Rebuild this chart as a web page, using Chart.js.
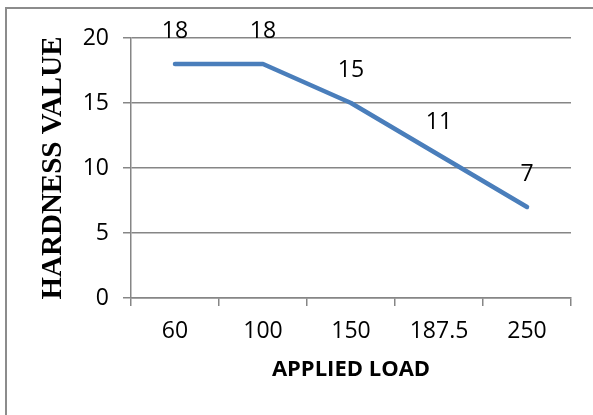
<!DOCTYPE html>
<html>
<head>
<meta charset="utf-8">
<script src="https://cdn.jsdelivr.net/npm/chart.js@4/dist/chart.umd.min.js"></script>
<style>
  html, body { margin: 0; padding: 0; background: #fff; }
  #wrap { position: relative; width: 593px; height: 415px; overflow: hidden; }
  #frame {
    position: absolute; left: 5px; top: 7px; width: 700px; height: 500px;
    border-left: 2px solid #8c8c8c; border-top: 2px solid #8c8c8c;
  }
  canvas { position: absolute; left: 0; top: 0; }
</style>
</head>
<body>
<div id="wrap">
  <div id="frame"></div>
  <canvas id="hardnessChart" width="593" height="415"></canvas>
</div>
<script>
// ── DATA ───────────────────────────────────────────────────────
const loads    = ['60', '100', '150', '187.5', '250'];
const hardness = [18, 18, 15, 11, 7];
const yTicks   = [0, 5, 10, 15, 20];

const GRID = '#868686';
const TICK_FONT = { family: 'Open Sans', size: 23 };

// Value labels sitting above each point (no datalabels plugin offline)
const valueLabels = {
  id: 'valueLabels',
  afterDatasetsDraw(chart) {
    const { ctx } = chart;
    const meta = chart.getDatasetMeta(0);
    ctx.save();
    ctx.font = `${TICK_FONT.size}px ${TICK_FONT.family}`;
    ctx.fillStyle = '#000';
    ctx.textAlign = 'center';
    ctx.textBaseline = 'middle';
    meta.data.forEach((pt, i) => {
      ctx.fillText(String(hardness[i]), pt.x, pt.y - 33);
    });
    ctx.restore();
  },
};

const ctx = document.getElementById('hardnessChart').getContext('2d');
new Chart(ctx, {
  type: 'line',
  data: {
    labels: loads,
    datasets: [{
      data: hardness,
      borderColor: '#4a7ebb',
      borderWidth: 4.5,
      borderCapStyle: 'round',
      borderJoinStyle: 'round',
      pointRadius: 0,
      tension: 0,
      fill: false,
    }],
  },
  options: {
    responsive: false,
    animation: false,
    layout: { padding: { left: 0, top: 38, right: 22, bottom: 0 } },
    plugins: {
      legend: { display: false },
      tooltip: { enabled: false },
    },
    scales: {
      x: {
        offset: true,
        grid: {
          offset: true, drawOnChartArea: false, drawTicks: true,
          tickLength: 8, color: GRID, lineWidth: 1.5,
        },
        border: { color: GRID, width: 1.5 },
        ticks: { color: '#000', font: TICK_FONT, padding: 12, maxRotation: 0 },
        title: {
          display: true, text: 'APPLIED LOAD', color: '#000',
          font: { family: 'Open Sans', size: 22, weight: 'bold' },
          padding: { top: 0, bottom: 32 },
        },
        afterFit: s => { s.height = 117; },
      },
      y: {
        min: 0, max: 20,
        afterBuildTicks: s => { s.ticks = yTicks.map(v => ({ value: v })); },
        grid: { color: GRID, lineWidth: 1.5, tickLength: 8 },
        border: { color: GRID, width: 1.5 },
        ticks: { color: '#000', font: TICK_FONT, padding: 14 },
        title: {
          display: true, text: 'HARDNESS VALUE', color: '#000',
          font: { family: 'Liberation Serif', size: 29, weight: 'bold' },
          padding: { top: 36, bottom: 0 },
        },
        afterFit: s => { s.width = 131; },
      },
    },
  },
  plugins: [valueLabels],
});
</script>
</body>
</html>
